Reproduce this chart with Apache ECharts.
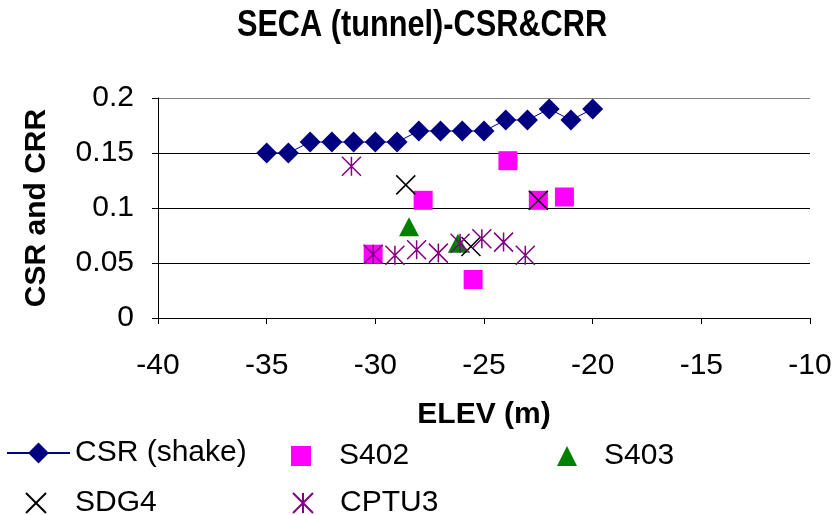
<!DOCTYPE html>
<html>
<head>
<meta charset="utf-8">
<script src="https://cdn.jsdelivr.net/npm/echarts@6/dist/echarts.min.js"></script>
<style>
  html, body { margin: 0; padding: 0; background: #fff; }
  #chart { width: 835px; height: 515px; }
</style>
</head>
<body>
<div id="chart"></div>
<script>
// ---- data ----
const csrElev = [-35, -34, -33, -32, -31, -30, -29, -28, -27, -26, -25, -24, -23, -22, -21, -20];
const csrVal  = [0.15, 0.15, 0.16, 0.16, 0.16, 0.16, 0.16, 0.17, 0.17, 0.17, 0.17, 0.18, 0.18, 0.19, 0.18, 0.19];

const s402Elev = [-30.1, -27.8, -25.5, -23.9, -22.5, -21.3];
const s402Val  = [0.058, 0.107, 0.035, 0.143, 0.107, 0.110];

const s403Elev = [-28.45, -26.2];
const s403Val  = [0.083, 0.068];

const sdg4Elev = [-28.6, -25.6, -22.5];
const sdg4Val  = [0.121, 0.065, 0.107];

const cptu3Elev = [-31.1, -30.1, -29.1, -28.1, -27.1, -26.1, -25.1, -24.1, -23.1];
const cptu3Val  = [0.138, 0.058, 0.057, 0.062, 0.059, 0.068, 0.072, 0.069, 0.057];

const xTicks = { min: -40, max: -10, interval: 5 };
const yTicks = { min: 0, max: 0.2, interval: 0.05 };

const titleText = 'SECA (tunnel)-CSR&CRR';

const pair = (xs, ys) => xs.map((x, i) => [x, ys[i]]);

const FONT = "'Liberation Sans', Arial, sans-serif";
const X_PATH = 'path://M0,0L10,10M10,0L0,10';
const AST_PATH = 'path://M0,0L10,10M10,0L0,10M5,0L5,10';

const chart = echarts.init(document.getElementById('chart'), null, { renderer: 'canvas' });

const legendText = { fontFamily: FONT, fontSize: 30, color: '#000' };
const withPad = (p) => Object.assign({ padding: [0, 0, 0, p] }, legendText);

chart.setOption({
  animation: false,
  backgroundColor: '#fff',
  graphic: [{
    type: 'text',
    x: 422, y: 26,
    scaleX: 0.83, scaleY: 1,
    style: {
      text: titleText,
      fontFamily: FONT, fontWeight: 'bold', fontSize: 37, fill: '#000',
      textAlign: 'center', textVerticalAlign: 'middle'
    }
  }],
  grid: { left: 158, right: 25, top: 98, bottom: 197 },
  legend: [
    { data: ['CSR (shake)'], left: 6, top: 438, padding: 0, itemWidth: 63, itemHeight: 26, textStyle: legendText },
    { data: ['S402'], left: 291, top: 441, padding: 0, itemWidth: 20, itemHeight: 20, textStyle: withPad(23) },
    { data: ['S403'], left: 557, top: 441, padding: 0, itemWidth: 20, itemHeight: 20, textStyle: withPad(22) },
    { data: ['SDG4'], left: 25, top: 488, padding: 0, itemWidth: 20, itemHeight: 20, textStyle: withPad(24) },
    { data: ['CPTU3'], left: 292, top: 488, padding: 0, itemWidth: 20, itemHeight: 20, textStyle: withPad(22) }
  ],
  xAxis: {
    type: 'value',
    min: xTicks.min, max: xTicks.max, interval: xTicks.interval,
    name: 'ELEV (m)',
    nameLocation: 'middle',
    nameGap: 82,
    nameTextStyle: { fontFamily: FONT, fontWeight: 'bold', fontSize: 30, color: '#000' },
    axisLine: { onZero: false, lineStyle: { color: '#000', width: 1 } },
    axisTick: { show: true, inside: false, length: 6, lineStyle: { color: '#000' } },
    axisLabel: { fontFamily: FONT, fontSize: 30, color: '#000', margin: 33 },
    splitLine: { show: false }
  },
  yAxis: {
    type: 'value',
    min: yTicks.min, max: yTicks.max, interval: yTicks.interval,
    name: 'CSR and CRR',
    nameLocation: 'middle',
    nameGap: 106,
    nameTextStyle: { fontFamily: FONT, fontWeight: 'bold', fontSize: 30, color: '#000' },
    axisLine: { show: true, lineStyle: { color: '#000', width: 1 } },
    axisTick: { show: true, inside: false, length: 6, lineStyle: { color: '#000' } },
    axisLabel: { fontFamily: FONT, fontSize: 30, color: '#000', margin: 24 },
    splitLine: { show: true, lineStyle: { color: ['#000', '#000', '#000', '#000', '#808080'], width: 1 } }
  },
  series: [
    {
      name: 'CSR (shake)', type: 'line', data: pair(csrElev, csrVal),
      symbol: 'diamond', symbolSize: 21,
      lineStyle: { color: '#000080', width: 1 },
      itemStyle: { color: '#000080' }
    },
    {
      name: 'S402', type: 'scatter', data: pair(s402Elev, s402Val),
      symbol: 'rect', symbolSize: 19,
      itemStyle: { color: '#FF00FF', opacity: 1 }
    },
    {
      name: 'S403', type: 'scatter', data: pair(s403Elev, s403Val),
      symbol: 'triangle', symbolSize: [20, 19],
      itemStyle: { color: '#008000', opacity: 1 }
    },
    {
      name: 'SDG4', type: 'scatter', data: pair(sdg4Elev, sdg4Val),
      symbol: X_PATH, symbolSize: 19,
      itemStyle: { color: 'rgba(0,0,0,0)', borderColor: '#000', borderWidth: 1.5, opacity: 1 }
    },
    {
      name: 'CPTU3', type: 'scatter', data: pair(cptu3Elev, cptu3Val),
      symbol: AST_PATH, symbolSize: 19,
      itemStyle: { color: 'rgba(0,0,0,0)', borderColor: '#800080', borderWidth: 1.5, opacity: 1 }
    }
  ]
});
</script>
</body>
</html>
